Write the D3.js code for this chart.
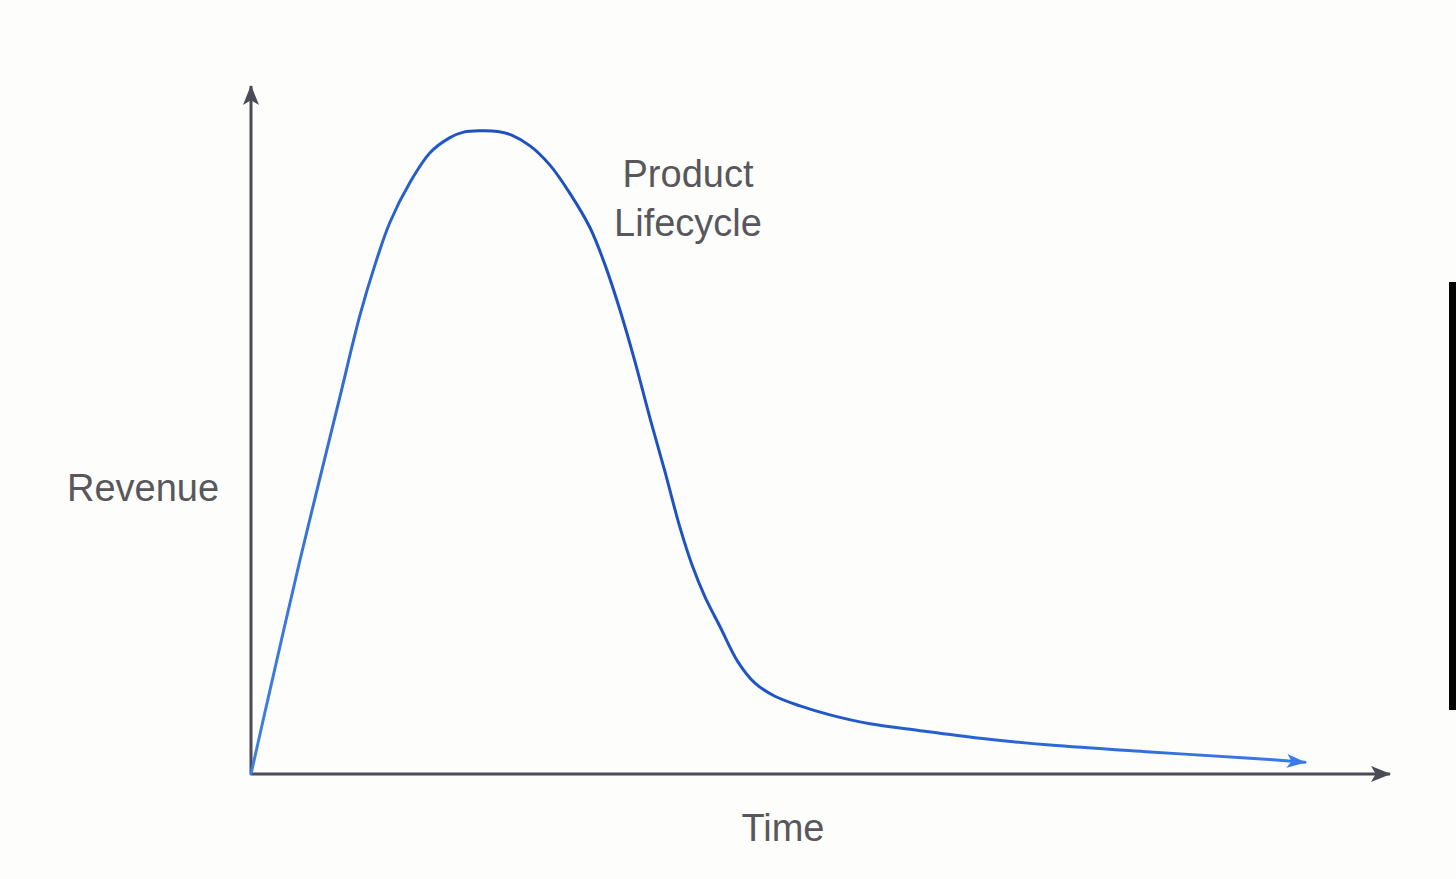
<!DOCTYPE html>
<html>
<head>
<meta charset="utf-8">
<script src="https://cdn.jsdelivr.net/npm/d3@7"></script>
<style>
  html, body { margin: 0; padding: 0; background: #fdfdfb; }
  svg { display: block; }
  .label { font-family: "Liberation Sans", Arial, sans-serif; fill: #58585c; font-size: 38px; }
</style>
</head>
<body>
<div class="chart"></div>
<script>
// time (arbitrary units) and revenue (% of axis height)
const time = [0, 1.0, 2.58, 3.63, 4.69, 5.74, 6.53, 7.32, 8.38, 9.43, 10.48, 11.2, 12.1, 13.0, 13.7, 14.7, 15.75, 16.8, 17.86, 18.65, 19.44, 20.23, 21.02, 21.81, 22.6, 23.23, 23.92, 24.71, 25.65, 26.55, 27.6, 28.92, 30.5, 32.61, 35.24, 38.4, 42.09, 47.36, 52.63, 55.52];
const revenue = [0, 12.2, 31.1, 43.0, 54.9, 66.7, 74.0, 80.2, 86.0, 90.3, 92.5, 93.3, 93.5, 93.4, 92.9, 91.3, 88.5, 84.4, 79.4, 74.0, 67.4, 59.9, 51.7, 43.9, 35.8, 30.4, 25.7, 21.4, 16.3, 13.2, 11.3, 9.9, 8.6, 7.3, 6.3, 5.2, 4.2, 3.2, 2.3, 1.7];
const titleLines = ['Product', 'Lifecycle'];
const xLabel = 'Time';
const yLabel = 'Revenue';

const width = 1456, height = 879;

const x = d3.scaleLinear().domain([0, 60]).range([251, 1390]);
const y = d3.scaleLinear().domain([0, 100]).range([774, 86]);

const svg = d3.select('.chart')
    .append('svg')
    .attr('width', width)
    .attr('height', height)
    .attr('viewBox', `0 0 ${width} ${height}`);

svg.append('rect').attr('width', width).attr('height', height).attr('fill', '#fdfdfb');

const defs = svg.append('defs');

function arrow(id, color, len, half) {
    defs.append('marker')
        .attr('id', id)
        .attr('viewBox', `${-len - 2} ${-half - 2} ${len + 4} ${2 * half + 4}`)
        .attr('refX', 0)
        .attr('refY', 0)
        .attr('markerWidth', len + 4)
        .attr('markerHeight', 2 * half + 4)
        .attr('markerUnits', 'userSpaceOnUse')
        .attr('orient', 'auto')
        .append('path')
        .attr('d', `M1,0 L${-len},${-half} L${-len * 0.75},0 L${-len},${half} Z`)
        .attr('fill', color);
}
arrow('axisArrow', '#4a4b57', 19, 8);
arrow('curveArrow', '#3a7be6', 18, 7);

const grad = defs.append('linearGradient')
    .attr('id', 'curveGrad')
    .attr('gradientUnits', 'userSpaceOnUse')
    .attr('x1', x(0)).attr('x2', x(56))
    .attr('y1', 0).attr('y2', 0);
grad.append('stop').attr('offset', 0).attr('stop-color', '#3f7fe2');
grad.append('stop').attr('offset', 0.22).attr('stop-color', '#1c50bd');
grad.append('stop').attr('offset', 0.5).attr('stop-color', '#1f55c4');
grad.append('stop').attr('offset', 1).attr('stop-color', '#3a7ce8');

// axes
const axisLine = d3.line();
svg.append('path')
    .attr('d', axisLine([[x.range()[0], y.range()[0]], [x.range()[0], y.range()[1]]]))
    .attr('stroke', '#4a4b57')
    .attr('stroke-width', 3)
    .attr('fill', 'none')
    .attr('marker-end', 'url(#axisArrow)');

svg.append('path')
    .attr('d', axisLine([[x.range()[0], y.range()[0]], [x.range()[1], y.range()[0]]]))
    .attr('stroke', '#4a4b57')
    .attr('stroke-width', 3)
    .attr('fill', 'none')
    .attr('marker-end', 'url(#axisArrow)');

// lifecycle curve
const data = time.map((t, i) => ({ t: t, r: revenue[i] }));
const line = d3.line()
    .x(d => x(d.t))
    .y(d => y(d.r))
    .curve(d3.curveCatmullRom.alpha(0.5));

svg.append('path')
    .datum(data)
    .attr('d', line)
    .attr('fill', 'none')
    .attr('stroke', 'url(#curveGrad)')
    .attr('stroke-width', 3)
    .attr('stroke-linecap', 'round')
    .attr('marker-end', 'url(#curveArrow)');

// labels
svg.append('text')
    .attr('class', 'label')
    .attr('x', 143)
    .attr('y', 501)
    .attr('text-anchor', 'middle')
    .text(yLabel);

svg.append('text')
    .attr('class', 'label')
    .attr('x', 783)
    .attr('y', 841)
    .attr('text-anchor', 'middle')
    .text(xLabel);

svg.append('text')
    .attr('class', 'label')
    .attr('text-anchor', 'middle')
    .selectAll('tspan')
    .data(titleLines)
    .enter().append('tspan')
    .attr('x', 688)
    .attr('y', (d, i) => 187 + i * 49)
    .text(d => d);

// dark strip at the right edge of the picture
svg.append('rect')
    .attr('x', 1449)
    .attr('y', 282)
    .attr('width', 7)
    .attr('height', 428)
    .attr('fill', '#050505');
</script>
</body>
</html>
